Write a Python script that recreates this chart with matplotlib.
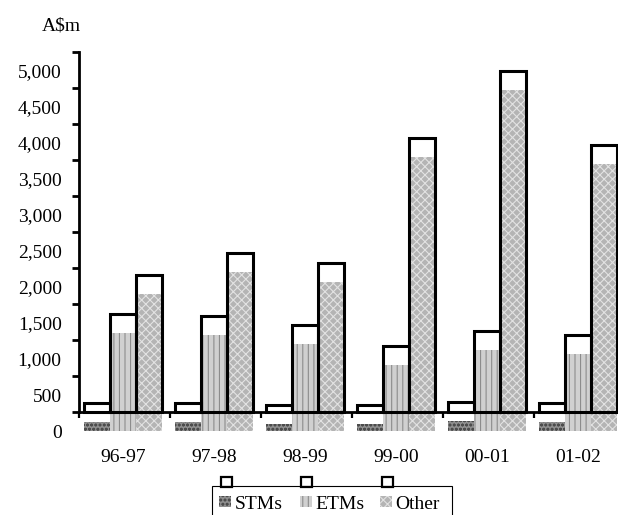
import matplotlib
matplotlib.use("Agg")
import matplotlib.pyplot as plt
from matplotlib.patches import Rectangle
import numpy as np

# ---- data ----
years = ["96-97", "97-98", "98-99", "99-00", "00-01", "01-02"]
series = ["STMs", "ETMs", "Other"]
stms = [120, 120, 100, 100, 140, 125]
etms = [1360, 1330, 1205, 920, 1130, 1070]
other = [1900, 2210, 2075, 3800, 4735, 3705]
yticks = list(range(0, 5001, 500))
ytick_labels = [f"{v:,}" for v in yticks]
unit_label = "A$m"

values = [stms, etms, other]

# ---- styles ----
styles = [
    dict(facecolor="#909090", edgecolor="#4c4c4c", hatch="oooo"),
    dict(facecolor="#d0d0d0", edgecolor="#8c8c8c", hatch="|||"),
    dict(facecolor="#b4b4b4", edgecolor="#e2e2e2", hatch="xxxx"),
]

W, H = 618, 515
plt.rcParams["font.family"] = ["Liberation Serif", "DejaVu Serif"]
plt.rcParams["hatch.linewidth"] = 0.8
FS = 14

fig = plt.figure(figsize=(W / 100, H / 100), dpi=100)


def fx(x):
    return x / W


def fy(y):
    return 1 - y / H


X0, X1 = 79, 618
BASE, TOP = 412, 52
SHIFT = 19
GC0, GSP, BW = 123, 91, 26  # pixel geometry of groups

ax_w = fx(X1) - fx(X0)
ax_h = (BASE - TOP) / H
ax1 = fig.add_axes([fx(X0), fy(BASE + SHIFT), ax_w, ax_h])  # patterned bars
ax2 = fig.add_axes([fx(X0), fy(BASE), ax_w, ax_h])          # outlined bars

xmin = (X0 - GC0) / GSP
xmax = (X1 - GC0) / GSP
width = BW / GSP
x = np.arange(len(years))
offsets = [-width, 0, width]

for ax in (ax1, ax2):
    ax.set_xlim(xmin, xmax)
    ax.set_ylim(0, 5000)
    ax.patch.set_visible(False)

for vals, off, st in zip(values, offsets, styles):
    ax1.bar(x + off, vals, width, linewidth=0, clip_on=False, **st)
    ax2.bar(x + off, vals, width, fill=False, edgecolor="black",
            linewidth=2.2, clip_on=False)

# ax1: labels only
for s in ax1.spines.values():
    s.set_visible(False)
ax1.set_yticks(yticks)
ax1.set_yticklabels(ytick_labels, fontsize=FS)
ax1.set_xticks(x)
ax1.set_xticklabels(years, fontsize=FS)
ax1.tick_params(axis="y", length=0, pad=12.5)
ax1.tick_params(axis="x", length=0, pad=13)

# ax2: axis lines and tick marks only
ax2.spines["top"].set_visible(False)
ax2.spines["right"].set_visible(False)
ax2.spines["left"].set_linewidth(2)
ax2.spines["bottom"].set_linewidth(2)
ax2.set_yticks(yticks)
ax2.set_yticklabels([])
ax2.set_xticks([xmin] + [i + 0.515 for i in range(len(years) - 1)])
ax2.set_xticklabels([])
ax2.tick_params(axis="y", direction="out", length=5, width=2)
ax2.tick_params(axis="x", direction="out", length=4.5, width=1.6)

fig.text(fx(61), fy(26), unit_label, ha="center", va="center", fontsize=FS)

# ---- legend (drawn by hand to match the odd layout) ----
fig.add_artist(Rectangle((fx(212), fy(530)), fx(452) - fx(212), (530 - 486) / H,
                         transform=fig.transFigure, fill=False,
                         edgecolor="black", linewidth=0.8, clip_on=False))
sq_x = [221, 301, 382]
sw_x = [219, 300, 380]
tx_x = [235, 315, 395]
for name, st, sx, wx, tx in zip(series, styles, sq_x, sw_x, tx_x):
    fig.add_artist(Rectangle((fx(sx), fy(487)), 11 / W, 10 / H,
                             transform=fig.transFigure, fill=False,
                             edgecolor="black", linewidth=1.6))
    fig.add_artist(Rectangle((fx(wx), fy(507)), 12 / W, 11 / H,
                             transform=fig.transFigure, linewidth=0, **st))
    fig.text(fx(tx), fy(509), name, ha="left", va="baseline", fontsize=FS)

fig.savefig("out.png", dpi=100)
